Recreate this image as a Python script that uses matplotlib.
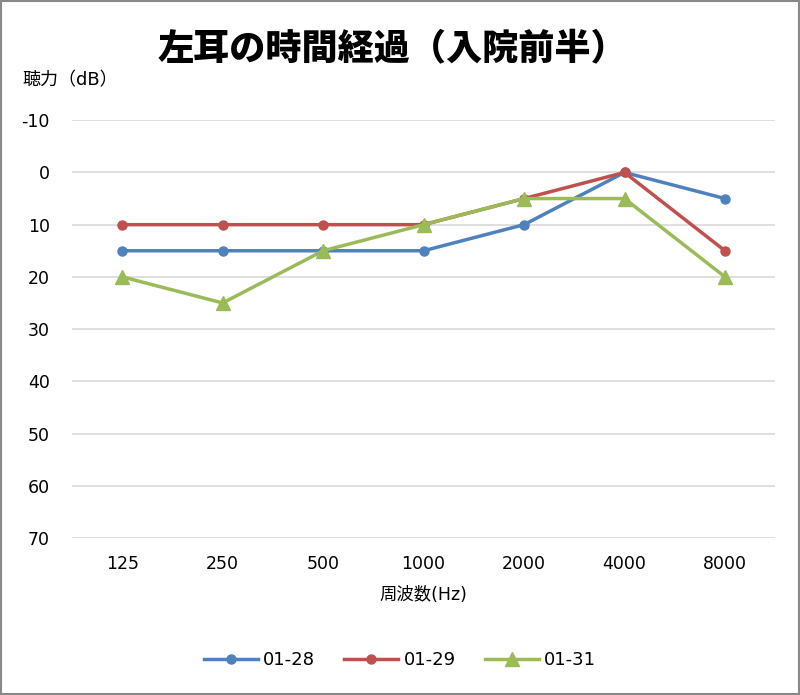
import matplotlib.pyplot as plt

plt.rcParams['font.family'] = ['DejaVu Sans', 'Noto Sans CJK JP']
plt.rcParams['axes.unicode_minus'] = False

freqs = ['125', '250', '500', '1000', '2000', '4000', '8000']
s0128 = [15, 15, 15, 15, 10, 0, 5]
s0129 = [10, 10, 10, 10, 5, 0, 15]
s0131 = [20, 25, 15, 10, 5, 5, 20]
labels = ['01-28', '01-29', '01-31']

fig = plt.figure(figsize=(8, 6.95), dpi=100)
ax = fig.add_axes([0.09, 0.226, 0.879, 0.601])

x = range(len(freqs))
ax.plot(x, s0128, color='#4F81BD', lw=2.5, marker='o', ms=6.5, label=labels[0])
ax.plot(x, s0129, color='#C0504D', lw=2.5, marker='o', ms=6.5, label=labels[1])
ax.plot(x, s0131, color='#9BBB59', lw=2.5, marker='^', ms=10, label=labels[2])

ax.set_xlim(-0.5, len(freqs) - 0.5)
ax.set_ylim(70, -10)
ax.set_yticks(range(-10, 71, 10))
ax.set_xticks(list(x))
ax.set_xticklabels(freqs)
ax.grid(axis='y', color='#D9D9D9', lw=1.2)
ax.set_axisbelow(True)
for sp in ax.spines.values():
    sp.set_visible(False)
ax.tick_params(length=0, labelsize=12.5, pad=12)
ax.tick_params(axis='y', pad=16)

fig.text(0.49, 0.928, '左耳の時間経過（入院前半）', ha='center', va='center',
         fontsize=26, fontweight='heavy')
fig.text(0.028, 0.885, '聴力（dB）', ha='left', va='center', fontsize=13)
ax.set_xlabel('周波数(Hz)', fontsize=12.5, labelpad=10)

ax.legend(loc='center', bbox_to_anchor=(0.5, 0.05), bbox_transform=fig.transFigure,
          ncol=3, frameon=False, fontsize=13, handlelength=3, handletextpad=0.3,
          columnspacing=1.6)

fig.patches.append(plt.Rectangle((0.001, 0.001), 0.998, 0.998, transform=fig.transFigure,
                                 fill=False, edgecolor='#888888', lw=1.5))
fig.savefig('out.png', dpi=100)
